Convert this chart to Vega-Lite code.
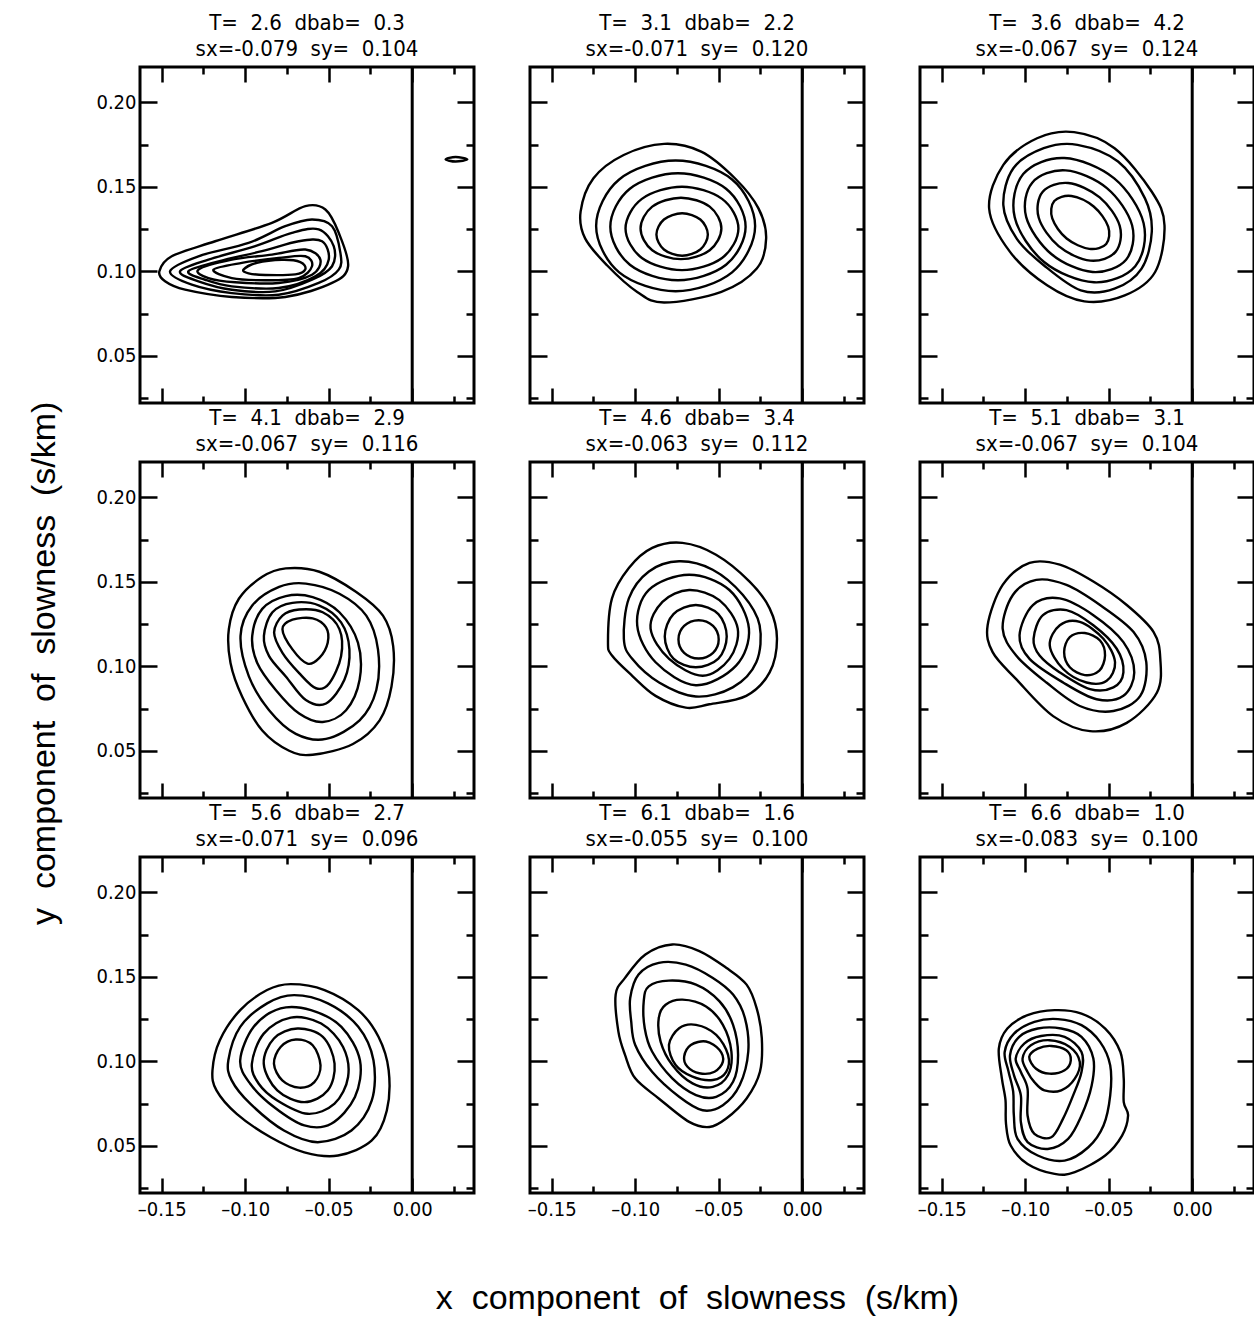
{
"$schema": "https://vega.github.io/schema/vega-lite/v6.json",
"background": "white",
"padding": {"left": 28, "top": 10, "right": 0, "bottom": 5},
"title": {"text": "y\u00a0 component\u00a0 of\u00a0 slowness\u00a0 (s/km)", "orient": "left", "anchor": "middle", "font": "Liberation Sans", "fontSize": 34, "offset": 32, "frame": "bounds"},
"datasets": {
"z": [{"x": 0, "y": 0.1}],
"c": [
{"p":1,"c":1,"k":0,"x":-0.1514,"y":0.1},{"p":1,"c":1,"k":1,"x":-0.144,"y":0.1089},{"p":1,"c":1,"k":2,"x":-0.118,"y":0.1178},{"p":1,"c":1,"k":3,"x":-0.084,"y":0.1287},{"p":1,"c":1,"k":4,"x":-0.064,"y":0.1386},{"p":1,"c":1,"k":5,"x":-0.052,"y":0.1366},{"p":1,"c":1,"k":6,"x":-0.044,"y":0.1228},{"p":1,"c":1,"k":7,"x":-0.0384,"y":0.103},{"p":1,"c":1,"k":8,"x":-0.048,"y":0.0931},{"p":1,"c":1,"k":9,"x":-0.076,"y":0.0848},{"p":1,"c":1,"k":10,"x":-0.108,"y":0.0848},{"p":1,"c":1,"k":11,"x":-0.136,"y":0.0891},{"p":1,"c":1,"k":12,"x":-0.148,"y":0.0941},
{"p":1,"c":2,"k":0,"x":-0.145,"y":0.1},{"p":1,"c":2,"k":1,"x":-0.128,"y":0.1089},{"p":1,"c":2,"k":2,"x":-0.098,"y":0.1168},{"p":1,"c":2,"k":3,"x":-0.076,"y":0.1267},{"p":1,"c":2,"k":4,"x":-0.06,"y":0.1307},{"p":1,"c":2,"k":5,"x":-0.048,"y":0.1267},{"p":1,"c":2,"k":6,"x":-0.043,"y":0.1109},{"p":1,"c":2,"k":7,"x":-0.044,"y":0.101},{"p":1,"c":2,"k":8,"x":-0.056,"y":0.0931},{"p":1,"c":2,"k":9,"x":-0.08,"y":0.0861},{"p":1,"c":2,"k":10,"x":-0.108,"y":0.0871},{"p":1,"c":2,"k":11,"x":-0.132,"y":0.0921},
{"p":1,"c":3,"k":0,"x":-0.139,"y":0.1},{"p":1,"c":3,"k":1,"x":-0.122,"y":0.1069},{"p":1,"c":3,"k":2,"x":-0.094,"y":0.1149},{"p":1,"c":3,"k":3,"x":-0.072,"y":0.1228},{"p":1,"c":3,"k":4,"x":-0.056,"y":0.1248},{"p":1,"c":3,"k":5,"x":-0.047,"y":0.1149},{"p":1,"c":3,"k":6,"x":-0.048,"y":0.103},{"p":1,"c":3,"k":7,"x":-0.06,"y":0.095},{"p":1,"c":3,"k":8,"x":-0.082,"y":0.0881},{"p":1,"c":3,"k":9,"x":-0.108,"y":0.0891},{"p":1,"c":3,"k":10,"x":-0.128,"y":0.0941},
{"p":1,"c":4,"k":0,"x":-0.134,"y":0.1},{"p":1,"c":4,"k":1,"x":-0.116,"y":0.1059},{"p":1,"c":4,"k":2,"x":-0.09,"y":0.1119},{"p":1,"c":4,"k":3,"x":-0.068,"y":0.1178},{"p":1,"c":4,"k":4,"x":-0.054,"y":0.1178},{"p":1,"c":4,"k":5,"x":-0.05,"y":0.1069},{"p":1,"c":4,"k":6,"x":-0.058,"y":0.097},{"p":1,"c":4,"k":7,"x":-0.08,"y":0.0901},{"p":1,"c":4,"k":8,"x":-0.108,"y":0.0911},{"p":1,"c":4,"k":9,"x":-0.124,"y":0.095},
{"p":1,"c":5,"k":0,"x":-0.128,"y":0.101},{"p":1,"c":5,"k":1,"x":-0.108,"y":0.1069},{"p":1,"c":5,"k":2,"x":-0.084,"y":0.1099},{"p":1,"c":5,"k":3,"x":-0.064,"y":0.1129},{"p":1,"c":5,"k":4,"x":-0.055,"y":0.1069},{"p":1,"c":5,"k":5,"x":-0.06,"y":0.098},{"p":1,"c":5,"k":6,"x":-0.08,"y":0.0931},{"p":1,"c":5,"k":7,"x":-0.106,"y":0.0935},{"p":1,"c":5,"k":8,"x":-0.122,"y":0.096},
{"p":1,"c":6,"k":0,"x":-0.119,"y":0.101},{"p":1,"c":6,"k":1,"x":-0.102,"y":0.105},{"p":1,"c":6,"k":2,"x":-0.08,"y":0.1079},{"p":1,"c":6,"k":3,"x":-0.064,"y":0.1089},{"p":1,"c":6,"k":4,"x":-0.06,"y":0.103},{"p":1,"c":6,"k":5,"x":-0.068,"y":0.096},{"p":1,"c":6,"k":6,"x":-0.088,"y":0.0947},{"p":1,"c":6,"k":7,"x":-0.108,"y":0.096},
{"p":1,"c":7,"k":0,"x":-0.101,"y":0.101},{"p":1,"c":7,"k":1,"x":-0.093,"y":0.105},{"p":1,"c":7,"k":2,"x":-0.078,"y":0.1068},{"p":1,"c":7,"k":3,"x":-0.067,"y":0.1055},{"p":1,"c":7,"k":4,"x":-0.064,"y":0.1012},{"p":1,"c":7,"k":5,"x":-0.07,"y":0.0982},{"p":1,"c":7,"k":6,"x":-0.088,"y":0.0978},{"p":1,"c":7,"k":7,"x":-0.098,"y":0.0988},
{"p":1,"c":8,"k":0,"x":0.02,"y":0.1663},{"p":1,"c":8,"k":1,"x":0.026,"y":0.1677},{"p":1,"c":8,"k":2,"x":0.033,"y":0.1663},{"p":1,"c":8,"k":3,"x":0.026,"y":0.165},
{"p":2,"c":1,"k":0,"x":-0.1327,"y":0.1353},{"p":2,"c":1,"k":1,"x":-0.125,"y":0.1551},{"p":2,"c":1,"k":2,"x":-0.1069,"y":0.1689},{"p":2,"c":1,"k":3,"x":-0.0827,"y":0.1755},{"p":2,"c":1,"k":4,"x":-0.0605,"y":0.1709},{"p":2,"c":1,"k":5,"x":-0.0403,"y":0.1551},{"p":2,"c":1,"k":6,"x":-0.0262,"y":0.1373},{"p":2,"c":1,"k":7,"x":-0.0216,"y":0.1195},{"p":2,"c":1,"k":8,"x":-0.0272,"y":0.1016},{"p":2,"c":1,"k":9,"x":-0.0484,"y":0.0878},{"p":2,"c":1,"k":10,"x":-0.0827,"y":0.0815},{"p":2,"c":1,"k":11,"x":-0.0988,"y":0.0878},{"p":2,"c":1,"k":12,"x":-0.1169,"y":0.1036},{"p":2,"c":1,"k":13,"x":-0.13,"y":0.1195},
{"p":2,"c":2,"k":0,"x":-0.1234,"y":0.1269},{"p":2,"c":2,"k":1,"x":-0.1096,"y":0.1544},{"p":2,"c":2,"k":2,"x":-0.0758,"y":0.1656},{"p":2,"c":2,"k":3,"x":-0.042,"y":0.1544},{"p":2,"c":2,"k":4,"x":-0.0282,"y":0.1269},{"p":2,"c":2,"k":5,"x":-0.042,"y":0.0994},{"p":2,"c":2,"k":6,"x":-0.0758,"y":0.0882},{"p":2,"c":2,"k":7,"x":-0.1096,"y":0.0994},
{"p":2,"c":3,"k":0,"x":-0.1149,"y":0.1264},{"p":2,"c":3,"k":1,"x":-0.1032,"y":0.1489},{"p":2,"c":3,"k":2,"x":-0.0744,"y":0.1581},{"p":2,"c":3,"k":3,"x":-0.0456,"y":0.1489},{"p":2,"c":3,"k":4,"x":-0.0339,"y":0.1264},{"p":2,"c":3,"k":5,"x":-0.0456,"y":0.1039},{"p":2,"c":3,"k":6,"x":-0.0744,"y":0.0947},{"p":2,"c":3,"k":7,"x":-0.1032,"y":0.1039},
{"p":2,"c":4,"k":0,"x":-0.1058,"y":0.1254},{"p":2,"c":4,"k":1,"x":-0.096,"y":0.1429},{"p":2,"c":4,"k":2,"x":-0.072,"y":0.1501},{"p":2,"c":4,"k":3,"x":-0.048,"y":0.1429},{"p":2,"c":4,"k":4,"x":-0.0382,"y":0.1254},{"p":2,"c":4,"k":5,"x":-0.048,"y":0.1079},{"p":2,"c":4,"k":6,"x":-0.072,"y":0.1007},{"p":2,"c":4,"k":7,"x":-0.096,"y":0.1079},
{"p":2,"c":5,"k":0,"x":-0.0968,"y":0.1254},{"p":2,"c":5,"k":1,"x":-0.0898,"y":0.1383},{"p":2,"c":5,"k":2,"x":-0.0726,"y":0.1436},{"p":2,"c":5,"k":3,"x":-0.0554,"y":0.1383},{"p":2,"c":5,"k":4,"x":-0.0484,"y":0.1254},{"p":2,"c":5,"k":5,"x":-0.0554,"y":0.1125},{"p":2,"c":5,"k":6,"x":-0.0726,"y":0.1072},{"p":2,"c":5,"k":7,"x":-0.0898,"y":0.1125},
{"p":2,"c":6,"k":0,"x":-0.0873,"y":0.1218},{"p":2,"c":6,"k":1,"x":-0.0828,"y":0.1307},{"p":2,"c":6,"k":2,"x":-0.0719,"y":0.1344},{"p":2,"c":6,"k":3,"x":-0.061,"y":0.1307},{"p":2,"c":6,"k":4,"x":-0.0565,"y":0.1218},{"p":2,"c":6,"k":5,"x":-0.061,"y":0.1129},{"p":2,"c":6,"k":6,"x":-0.0719,"y":0.1092},{"p":2,"c":6,"k":7,"x":-0.0828,"y":0.1129},
{"p":3,"c":1,"k":0,"x":-0.1216,"y":0.1372},{"p":3,"c":1,"k":1,"x":-0.1131,"y":0.163},{"p":3,"c":1,"k":2,"x":-0.0929,"y":0.1788},{"p":3,"c":1,"k":3,"x":-0.0707,"y":0.1824},{"p":3,"c":1,"k":4,"x":-0.0465,"y":0.1729},{"p":3,"c":1,"k":5,"x":-0.0242,"y":0.1471},{"p":3,"c":1,"k":6,"x":-0.0166,"y":0.1273},{"p":3,"c":1,"k":7,"x":-0.0222,"y":0.0996},{"p":3,"c":1,"k":8,"x":-0.0404,"y":0.0857},{"p":3,"c":1,"k":9,"x":-0.0646,"y":0.0822},{"p":3,"c":1,"k":10,"x":-0.0869,"y":0.0917},{"p":3,"c":1,"k":11,"x":-0.1091,"y":0.1115},
{"p":3,"c":2,"k":0,"x":-0.1131,"y":0.1392},{"p":3,"c":2,"k":1,"x":-0.1071,"y":0.161},{"p":3,"c":2,"k":2,"x":-0.0889,"y":0.1729},{"p":3,"c":2,"k":3,"x":-0.0687,"y":0.1749},{"p":3,"c":2,"k":4,"x":-0.0444,"y":0.165},{"p":3,"c":2,"k":5,"x":-0.0283,"y":0.1432},{"p":3,"c":2,"k":6,"x":-0.0242,"y":0.1234},{"p":3,"c":2,"k":7,"x":-0.0303,"y":0.1016},{"p":3,"c":2,"k":8,"x":-0.0465,"y":0.0897},{"p":3,"c":2,"k":9,"x":-0.0667,"y":0.0887},{"p":3,"c":2,"k":10,"x":-0.0889,"y":0.1036},{"p":3,"c":2,"k":11,"x":-0.1051,"y":0.1194},
{"p":3,"c":3,"k":0,"x":-0.0341,"y":0.103},{"p":3,"c":3,"k":1,"x":-0.0291,"y":0.1285},{"p":3,"c":3,"k":2,"x":-0.0467,"y":0.155},{"p":3,"c":3,"k":3,"x":-0.0766,"y":0.1671},{"p":3,"c":3,"k":4,"x":-0.1012,"y":0.1576},{"p":3,"c":3,"k":5,"x":-0.1063,"y":0.1321},{"p":3,"c":3,"k":6,"x":-0.0887,"y":0.1055},{"p":3,"c":3,"k":7,"x":-0.0588,"y":0.0935},
{"p":3,"c":4,"k":0,"x":-0.0396,"y":0.1069},{"p":3,"c":4,"k":1,"x":-0.036,"y":0.1273},{"p":3,"c":4,"k":2,"x":-0.0511,"y":0.1493},{"p":3,"c":4,"k":3,"x":-0.0758,"y":0.1598},{"p":3,"c":4,"k":4,"x":-0.0958,"y":0.1525},{"p":3,"c":4,"k":5,"x":-0.0994,"y":0.1321},{"p":3,"c":4,"k":6,"x":-0.0842,"y":0.1101},{"p":3,"c":4,"k":7,"x":-0.0596,"y":0.0996},
{"p":3,"c":5,"k":0,"x":-0.0459,"y":0.1115},{"p":3,"c":5,"k":1,"x":-0.0434,"y":0.1269},{"p":3,"c":5,"k":2,"x":-0.0554,"y":0.1438},{"p":3,"c":5,"k":3,"x":-0.0743,"y":0.1523},{"p":3,"c":5,"k":4,"x":-0.0895,"y":0.1471},{"p":3,"c":5,"k":5,"x":-0.0919,"y":0.1317},{"p":3,"c":5,"k":6,"x":-0.08,"y":0.1149},{"p":3,"c":5,"k":7,"x":-0.061,"y":0.1063},
{"p":3,"c":6,"k":0,"x":-0.0515,"y":0.1162},{"p":3,"c":6,"k":1,"x":-0.0503,"y":0.1265},{"p":3,"c":6,"k":2,"x":-0.059,"y":0.1384},{"p":3,"c":6,"k":3,"x":-0.0723,"y":0.1446},{"p":3,"c":6,"k":4,"x":-0.0826,"y":0.1416},{"p":3,"c":6,"k":5,"x":-0.0838,"y":0.1313},{"p":3,"c":6,"k":6,"x":-0.0752,"y":0.1194},{"p":3,"c":6,"k":7,"x":-0.0616,"y":0.1133},
{"p":4,"c":1,"k":0,"x":-0.1098,"y":0.122},{"p":4,"c":1,"k":1,"x":-0.1038,"y":0.14},{"p":4,"c":1,"k":2,"x":-0.0898,"y":0.153},{"p":4,"c":1,"k":3,"x":-0.0757,"y":0.158},{"p":4,"c":1,"k":4,"x":-0.0556,"y":0.156},{"p":4,"c":1,"k":5,"x":-0.0335,"y":0.144},{"p":4,"c":1,"k":6,"x":-0.0175,"y":0.13},{"p":4,"c":1,"k":7,"x":-0.0114,"y":0.112},{"p":4,"c":1,"k":8,"x":-0.0124,"y":0.088},{"p":4,"c":1,"k":9,"x":-0.0195,"y":0.068},{"p":4,"c":1,"k":10,"x":-0.0355,"y":0.054},{"p":4,"c":1,"k":11,"x":-0.0596,"y":0.0476},{"p":4,"c":1,"k":12,"x":-0.0737,"y":0.05},{"p":4,"c":1,"k":13,"x":-0.0898,"y":0.062},{"p":4,"c":1,"k":14,"x":-0.1018,"y":0.082},{"p":4,"c":1,"k":15,"x":-0.1088,"y":0.102},
{"p":4,"c":2,"k":0,"x":-0.1028,"y":0.118},{"p":4,"c":2,"k":1,"x":-0.0958,"y":0.136},{"p":4,"c":2,"k":2,"x":-0.0797,"y":0.147},{"p":4,"c":2,"k":3,"x":-0.0637,"y":0.149},{"p":4,"c":2,"k":4,"x":-0.0436,"y":0.143},{"p":4,"c":2,"k":5,"x":-0.0275,"y":0.13},{"p":4,"c":2,"k":6,"x":-0.0205,"y":0.11},{"p":4,"c":2,"k":7,"x":-0.0215,"y":0.086},{"p":4,"c":2,"k":8,"x":-0.0315,"y":0.068},{"p":4,"c":2,"k":9,"x":-0.0516,"y":0.057},{"p":4,"c":2,"k":10,"x":-0.0697,"y":0.06},{"p":4,"c":2,"k":11,"x":-0.0857,"y":0.074},{"p":4,"c":2,"k":12,"x":-0.0978,"y":0.094},
{"p":4,"c":3,"k":0,"x":-0.0958,"y":0.118},{"p":4,"c":3,"k":1,"x":-0.0898,"y":0.134},{"p":4,"c":3,"k":2,"x":-0.0757,"y":0.1416},{"p":4,"c":3,"k":3,"x":-0.0596,"y":0.141},{"p":4,"c":3,"k":4,"x":-0.0436,"y":0.132},{"p":4,"c":3,"k":5,"x":-0.0325,"y":0.114},{"p":4,"c":3,"k":6,"x":-0.0315,"y":0.092},{"p":4,"c":3,"k":7,"x":-0.0396,"y":0.074},{"p":4,"c":3,"k":8,"x":-0.0536,"y":0.067},{"p":4,"c":3,"k":9,"x":-0.0677,"y":0.072},{"p":4,"c":3,"k":10,"x":-0.0817,"y":0.086},{"p":4,"c":3,"k":11,"x":-0.0928,"y":0.102},
{"p":4,"c":4,"k":0,"x":-0.0888,"y":0.118},{"p":4,"c":4,"k":1,"x":-0.0837,"y":0.132},{"p":4,"c":4,"k":2,"x":-0.0717,"y":0.1376},{"p":4,"c":4,"k":3,"x":-0.0556,"y":0.136},{"p":4,"c":4,"k":4,"x":-0.0426,"y":0.126},{"p":4,"c":4,"k":5,"x":-0.0376,"y":0.11},{"p":4,"c":4,"k":6,"x":-0.0406,"y":0.092},{"p":4,"c":4,"k":7,"x":-0.0516,"y":0.078},{"p":4,"c":4,"k":8,"x":-0.0637,"y":0.08},{"p":4,"c":4,"k":9,"x":-0.0757,"y":0.094},{"p":4,"c":4,"k":10,"x":-0.0857,"y":0.106},
{"p":4,"c":5,"k":0,"x":-0.0827,"y":0.12},{"p":4,"c":5,"k":1,"x":-0.0777,"y":0.13},{"p":4,"c":5,"k":2,"x":-0.0677,"y":0.1336},{"p":4,"c":5,"k":3,"x":-0.0536,"y":0.132},{"p":4,"c":5,"k":4,"x":-0.0436,"y":0.122},{"p":4,"c":5,"k":5,"x":-0.0426,"y":0.106},{"p":4,"c":5,"k":6,"x":-0.0496,"y":0.09},{"p":4,"c":5,"k":7,"x":-0.0576,"y":0.087},{"p":4,"c":5,"k":8,"x":-0.0677,"y":0.096},{"p":4,"c":5,"k":9,"x":-0.0777,"y":0.108},
{"p":4,"c":6,"k":0,"x":-0.0777,"y":0.122},{"p":4,"c":6,"k":1,"x":-0.0717,"y":0.1276},{"p":4,"c":6,"k":2,"x":-0.0596,"y":0.1284},{"p":4,"c":6,"k":3,"x":-0.0516,"y":0.123},{"p":4,"c":6,"k":4,"x":-0.0506,"y":0.114},{"p":4,"c":6,"k":5,"x":-0.0556,"y":0.105},{"p":4,"c":6,"k":6,"x":-0.0627,"y":0.1016},{"p":4,"c":6,"k":7,"x":-0.0717,"y":0.11},
{"p":5,"c":1,"k":0,"x":-0.1163,"y":0.1143},{"p":5,"c":1,"k":1,"x":-0.1139,"y":0.1402},{"p":5,"c":1,"k":2,"x":-0.1038,"y":0.1582},{"p":5,"c":1,"k":3,"x":-0.0898,"y":0.1701},{"p":5,"c":1,"k":4,"x":-0.0717,"y":0.1731},{"p":5,"c":1,"k":5,"x":-0.0516,"y":0.1661},{"p":5,"c":1,"k":6,"x":-0.0315,"y":0.1502},{"p":5,"c":1,"k":7,"x":-0.0195,"y":0.1343},{"p":5,"c":1,"k":8,"x":-0.0151,"y":0.1163},{"p":5,"c":1,"k":9,"x":-0.0195,"y":0.0964},{"p":5,"c":1,"k":10,"x":-0.0335,"y":0.0825},{"p":5,"c":1,"k":11,"x":-0.0556,"y":0.0775},{"p":5,"c":1,"k":12,"x":-0.0697,"y":0.0755},{"p":5,"c":1,"k":13,"x":-0.0878,"y":0.0825},{"p":5,"c":1,"k":14,"x":-0.1018,"y":0.0944},{"p":5,"c":1,"k":15,"x":-0.1139,"y":0.1064},
{"p":5,"c":2,"k":0,"x":-0.1068,"y":0.1163},{"p":5,"c":2,"k":1,"x":-0.1038,"y":0.1402},{"p":5,"c":2,"k":2,"x":-0.0918,"y":0.1562},{"p":5,"c":2,"k":3,"x":-0.0737,"y":0.1622},{"p":5,"c":2,"k":4,"x":-0.0536,"y":0.1572},{"p":5,"c":2,"k":5,"x":-0.0355,"y":0.1422},{"p":5,"c":2,"k":6,"x":-0.0255,"y":0.1243},{"p":5,"c":2,"k":7,"x":-0.0275,"y":0.1024},{"p":5,"c":2,"k":8,"x":-0.0416,"y":0.0875},{"p":5,"c":2,"k":9,"x":-0.0637,"y":0.0821},{"p":5,"c":2,"k":10,"x":-0.0857,"y":0.0904},{"p":5,"c":2,"k":11,"x":-0.1018,"y":0.1044},
{"p":5,"c":3,"k":0,"x":-0.0988,"y":0.1243},{"p":5,"c":3,"k":1,"x":-0.0918,"y":0.1452},{"p":5,"c":3,"k":2,"x":-0.0677,"y":0.1542},{"p":5,"c":3,"k":3,"x":-0.0436,"y":0.1452},{"p":5,"c":3,"k":4,"x":-0.0319,"y":0.1223},{"p":5,"c":3,"k":5,"x":-0.0396,"y":0.1004},{"p":5,"c":3,"k":6,"x":-0.0637,"y":0.0888},{"p":5,"c":3,"k":7,"x":-0.0878,"y":0.1024},
{"p":5,"c":4,"k":0,"x":-0.0908,"y":0.1223},{"p":5,"c":4,"k":1,"x":-0.0837,"y":0.1382},{"p":5,"c":4,"k":2,"x":-0.0677,"y":0.1452},{"p":5,"c":4,"k":3,"x":-0.0496,"y":0.1392},{"p":5,"c":4,"k":4,"x":-0.0386,"y":0.1223},{"p":5,"c":4,"k":5,"x":-0.0436,"y":0.1044},{"p":5,"c":4,"k":6,"x":-0.0596,"y":0.0944},{"p":5,"c":4,"k":7,"x":-0.0797,"y":0.1044},
{"p":5,"c":5,"k":0,"x":-0.0823,"y":0.1177},{"p":5,"c":5,"k":1,"x":-0.0771,"y":0.1309},{"p":5,"c":5,"k":2,"x":-0.0637,"y":0.1363},{"p":5,"c":5,"k":3,"x":-0.0502,"y":0.1309},{"p":5,"c":5,"k":4,"x":-0.0452,"y":0.1177},{"p":5,"c":5,"k":5,"x":-0.0502,"y":0.1046},{"p":5,"c":5,"k":6,"x":-0.0637,"y":0.0994},{"p":5,"c":5,"k":7,"x":-0.0771,"y":0.1046},
{"p":5,"c":6,"k":0,"x":-0.0741,"y":0.1159},{"p":5,"c":6,"k":1,"x":-0.0707,"y":0.1239},{"p":5,"c":6,"k":2,"x":-0.062,"y":0.1273},{"p":5,"c":6,"k":3,"x":-0.0534,"y":0.1239},{"p":5,"c":6,"k":4,"x":-0.05,"y":0.1159},{"p":5,"c":6,"k":5,"x":-0.0534,"y":0.108},{"p":5,"c":6,"k":6,"x":-0.062,"y":0.1046},{"p":5,"c":6,"k":7,"x":-0.0707,"y":0.108},
{"p":6,"c":1,"k":0,"x":-0.1225,"y":0.1243},{"p":6,"c":1,"k":1,"x":-0.1135,"y":0.1482},{"p":6,"c":1,"k":2,"x":-0.0974,"y":0.1612},{"p":6,"c":1,"k":3,"x":-0.0793,"y":0.1602},{"p":6,"c":1,"k":4,"x":-0.0592,"y":0.1502},{"p":6,"c":1,"k":5,"x":-0.0392,"y":0.1363},{"p":6,"c":1,"k":6,"x":-0.0231,"y":0.1203},{"p":6,"c":1,"k":7,"x":-0.0191,"y":0.1044},{"p":6,"c":1,"k":8,"x":-0.0211,"y":0.0845},{"p":6,"c":1,"k":9,"x":-0.0392,"y":0.0665},{"p":6,"c":1,"k":10,"x":-0.0612,"y":0.0616},{"p":6,"c":1,"k":11,"x":-0.0833,"y":0.0705},{"p":6,"c":1,"k":12,"x":-0.1054,"y":0.0924},{"p":6,"c":1,"k":13,"x":-0.1195,"y":0.1084},
{"p":6,"c":2,"k":0,"x":-0.1135,"y":0.1223},{"p":6,"c":2,"k":1,"x":-0.1074,"y":0.1422},{"p":6,"c":2,"k":2,"x":-0.0934,"y":0.1512},{"p":6,"c":2,"k":3,"x":-0.0753,"y":0.1482},{"p":6,"c":2,"k":4,"x":-0.0552,"y":0.1363},{"p":6,"c":2,"k":5,"x":-0.0351,"y":0.1203},{"p":6,"c":2,"k":6,"x":-0.0275,"y":0.1024},{"p":6,"c":2,"k":7,"x":-0.0311,"y":0.0825},{"p":6,"c":2,"k":8,"x":-0.0472,"y":0.0735},{"p":6,"c":2,"k":9,"x":-0.0673,"y":0.0765},{"p":6,"c":2,"k":10,"x":-0.0873,"y":0.0904},{"p":6,"c":2,"k":11,"x":-0.1054,"y":0.1064},
{"p":6,"c":3,"k":0,"x":-0.1034,"y":0.1183},{"p":6,"c":3,"k":1,"x":-0.0954,"y":0.1363},{"p":6,"c":3,"k":2,"x":-0.0793,"y":0.1402},{"p":6,"c":3,"k":3,"x":-0.0592,"y":0.1303},{"p":6,"c":3,"k":4,"x":-0.0412,"y":0.1143},{"p":6,"c":3,"k":5,"x":-0.0347,"y":0.0964},{"p":6,"c":3,"k":6,"x":-0.0412,"y":0.0825},{"p":6,"c":3,"k":7,"x":-0.0572,"y":0.0805},{"p":6,"c":3,"k":8,"x":-0.0773,"y":0.0904},{"p":6,"c":3,"k":9,"x":-0.0974,"y":0.1044},
{"p":6,"c":4,"k":0,"x":-0.095,"y":0.1163},{"p":6,"c":4,"k":1,"x":-0.0894,"y":0.1303},{"p":6,"c":4,"k":2,"x":-0.0753,"y":0.1333},{"p":6,"c":4,"k":3,"x":-0.0592,"y":0.1243},{"p":6,"c":4,"k":4,"x":-0.0452,"y":0.1104},{"p":6,"c":4,"k":5,"x":-0.0412,"y":0.0964},{"p":6,"c":4,"k":6,"x":-0.0472,"y":0.0875},{"p":6,"c":4,"k":7,"x":-0.0612,"y":0.0865},{"p":6,"c":4,"k":8,"x":-0.0793,"y":0.0964},{"p":6,"c":4,"k":9,"x":-0.0914,"y":0.1064},
{"p":6,"c":5,"k":0,"x":-0.0853,"y":0.1124},{"p":6,"c":5,"k":1,"x":-0.0793,"y":0.1243},{"p":6,"c":5,"k":2,"x":-0.0673,"y":0.1263},{"p":6,"c":5,"k":3,"x":-0.0532,"y":0.1163},{"p":6,"c":5,"k":4,"x":-0.0462,"y":0.1024},{"p":6,"c":5,"k":5,"x":-0.0512,"y":0.0914},{"p":6,"c":5,"k":6,"x":-0.0633,"y":0.0904},{"p":6,"c":5,"k":7,"x":-0.0773,"y":0.0984},
{"p":6,"c":6,"k":0,"x":-0.0767,"y":0.1084},{"p":6,"c":6,"k":1,"x":-0.0733,"y":0.1173},{"p":6,"c":6,"k":2,"x":-0.0643,"y":0.1197},{"p":6,"c":6,"k":3,"x":-0.0552,"y":0.1153},{"p":6,"c":6,"k":4,"x":-0.0522,"y":0.1064},{"p":6,"c":6,"k":5,"x":-0.0556,"y":0.0974},{"p":6,"c":6,"k":6,"x":-0.0643,"y":0.0948},{"p":6,"c":6,"k":7,"x":-0.0733,"y":0.0994},
{"p":7,"c":1,"k":0,"x":-0.1196,"y":0.0947},{"p":7,"c":1,"k":1,"x":-0.1152,"y":0.1125},{"p":7,"c":1,"k":2,"x":-0.103,"y":0.1303},{"p":7,"c":1,"k":3,"x":-0.0869,"y":0.1422},{"p":7,"c":1,"k":4,"x":-0.0727,"y":0.1457},{"p":7,"c":1,"k":5,"x":-0.0525,"y":0.1422},{"p":7,"c":1,"k":6,"x":-0.0323,"y":0.1303},{"p":7,"c":1,"k":7,"x":-0.0202,"y":0.1145},{"p":7,"c":1,"k":8,"x":-0.0141,"y":0.0947},{"p":7,"c":1,"k":9,"x":-0.0152,"y":0.0709},{"p":7,"c":1,"k":10,"x":-0.0242,"y":0.0531},{"p":7,"c":1,"k":11,"x":-0.0444,"y":0.0442},{"p":7,"c":1,"k":12,"x":-0.0646,"y":0.0461},{"p":7,"c":1,"k":13,"x":-0.0848,"y":0.055},{"p":7,"c":1,"k":14,"x":-0.1051,"y":0.0689},{"p":7,"c":1,"k":15,"x":-0.1172,"y":0.0828},
{"p":7,"c":2,"k":0,"x":-0.1101,"y":0.1006},{"p":7,"c":2,"k":1,"x":-0.103,"y":0.1204},{"p":7,"c":2,"k":2,"x":-0.0869,"y":0.1343},{"p":7,"c":2,"k":3,"x":-0.0707,"y":0.1392},{"p":7,"c":2,"k":4,"x":-0.0505,"y":0.1343},{"p":7,"c":2,"k":5,"x":-0.0323,"y":0.1204},{"p":7,"c":2,"k":6,"x":-0.0232,"y":0.1006},{"p":7,"c":2,"k":7,"x":-0.0242,"y":0.0768},{"p":7,"c":2,"k":8,"x":-0.0364,"y":0.059},{"p":7,"c":2,"k":9,"x":-0.0566,"y":0.0521},{"p":7,"c":2,"k":10,"x":-0.0768,"y":0.059},{"p":7,"c":2,"k":11,"x":-0.097,"y":0.0749},{"p":7,"c":2,"k":12,"x":-0.1081,"y":0.0887},
{"p":7,"c":3,"k":0,"x":-0.103,"y":0.1006},{"p":7,"c":3,"k":1,"x":-0.0949,"y":0.1204},{"p":7,"c":3,"k":2,"x":-0.0788,"y":0.1313},{"p":7,"c":3,"k":3,"x":-0.0606,"y":0.1303},{"p":7,"c":3,"k":4,"x":-0.0424,"y":0.1204},{"p":7,"c":3,"k":5,"x":-0.0313,"y":0.1006},{"p":7,"c":3,"k":6,"x":-0.0343,"y":0.0788},{"p":7,"c":3,"k":7,"x":-0.0485,"y":0.063},{"p":7,"c":3,"k":8,"x":-0.0646,"y":0.062},{"p":7,"c":3,"k":9,"x":-0.0828,"y":0.0729},{"p":7,"c":3,"k":10,"x":-0.097,"y":0.0867},
{"p":7,"c":4,"k":0,"x":-0.096,"y":0.0986},{"p":7,"c":4,"k":1,"x":-0.0889,"y":0.1164},{"p":7,"c":4,"k":2,"x":-0.0727,"y":0.1259},{"p":7,"c":4,"k":3,"x":-0.0545,"y":0.1224},{"p":7,"c":4,"k":4,"x":-0.0414,"y":0.1085},{"p":7,"c":4,"k":5,"x":-0.0384,"y":0.0907},{"p":7,"c":4,"k":6,"x":-0.0465,"y":0.0749},{"p":7,"c":4,"k":7,"x":-0.0626,"y":0.0689},{"p":7,"c":4,"k":8,"x":-0.0808,"y":0.0768},{"p":7,"c":4,"k":9,"x":-0.0919,"y":0.0867},
{"p":7,"c":5,"k":0,"x":-0.0889,"y":0.0986},{"p":7,"c":5,"k":1,"x":-0.0828,"y":0.1135},{"p":7,"c":5,"k":2,"x":-0.0687,"y":0.1194},{"p":7,"c":5,"k":3,"x":-0.0535,"y":0.1145},{"p":7,"c":5,"k":4,"x":-0.0465,"y":0.0986},{"p":7,"c":5,"k":5,"x":-0.0505,"y":0.0828},{"p":7,"c":5,"k":6,"x":-0.0646,"y":0.0758},{"p":7,"c":5,"k":7,"x":-0.0808,"y":0.0828},
{"p":7,"c":6,"k":0,"x":-0.0828,"y":0.0986},{"p":7,"c":6,"k":1,"x":-0.0788,"y":0.1085},{"p":7,"c":6,"k":2,"x":-0.0697,"y":0.1129},{"p":7,"c":6,"k":3,"x":-0.0596,"y":0.1095},{"p":7,"c":6,"k":4,"x":-0.0549,"y":0.0976},{"p":7,"c":6,"k":5,"x":-0.0586,"y":0.0877},{"p":7,"c":6,"k":6,"x":-0.0677,"y":0.0844},{"p":7,"c":6,"k":7,"x":-0.0778,"y":0.0887},
{"p":8,"c":1,"k":0,"x":-0.1117,"y":0.1395},{"p":8,"c":1,"k":1,"x":-0.1061,"y":0.1494},{"p":8,"c":1,"k":2,"x":-0.0939,"y":0.1633},{"p":8,"c":1,"k":3,"x":-0.0778,"y":0.1692},{"p":8,"c":1,"k":4,"x":-0.0616,"y":0.1653},{"p":8,"c":1,"k":5,"x":-0.0455,"y":0.1554},{"p":8,"c":1,"k":6,"x":-0.0333,"y":0.1454},{"p":8,"c":1,"k":7,"x":-0.0273,"y":0.1315},{"p":8,"c":1,"k":8,"x":-0.0242,"y":0.1137},{"p":8,"c":1,"k":9,"x":-0.0253,"y":0.0938},{"p":8,"c":1,"k":10,"x":-0.0333,"y":0.078},{"p":8,"c":1,"k":11,"x":-0.0455,"y":0.0661},{"p":8,"c":1,"k":12,"x":-0.0556,"y":0.0611},{"p":8,"c":1,"k":13,"x":-0.0677,"y":0.0641},{"p":8,"c":1,"k":14,"x":-0.0859,"y":0.078},{"p":8,"c":1,"k":15,"x":-0.1,"y":0.0899},{"p":8,"c":1,"k":16,"x":-0.1061,"y":0.1038},{"p":8,"c":1,"k":17,"x":-0.1101,"y":0.1177},
{"p":8,"c":2,"k":0,"x":-0.103,"y":0.1375},{"p":8,"c":2,"k":1,"x":-0.098,"y":0.1514},{"p":8,"c":2,"k":2,"x":-0.0859,"y":0.1583},{"p":8,"c":2,"k":3,"x":-0.0697,"y":0.1573},{"p":8,"c":2,"k":4,"x":-0.0535,"y":0.1494},{"p":8,"c":2,"k":5,"x":-0.0414,"y":0.1395},{"p":8,"c":2,"k":6,"x":-0.0343,"y":0.1256},{"p":8,"c":2,"k":7,"x":-0.0323,"y":0.1058},{"p":8,"c":2,"k":8,"x":-0.0374,"y":0.0859},{"p":8,"c":2,"k":9,"x":-0.0475,"y":0.074},{"p":8,"c":2,"k":10,"x":-0.0596,"y":0.071},{"p":8,"c":2,"k":11,"x":-0.0737,"y":0.079},{"p":8,"c":2,"k":12,"x":-0.0899,"y":0.0938},{"p":8,"c":2,"k":13,"x":-0.1,"y":0.1097},{"p":8,"c":2,"k":14,"x":-0.1024,"y":0.1236},
{"p":8,"c":3,"k":0,"x":-0.0949,"y":0.1355},{"p":8,"c":3,"k":1,"x":-0.0919,"y":0.1444},{"p":8,"c":3,"k":2,"x":-0.0798,"y":0.1478},{"p":8,"c":3,"k":3,"x":-0.0636,"y":0.1454},{"p":8,"c":3,"k":4,"x":-0.0495,"y":0.1355},{"p":8,"c":3,"k":5,"x":-0.0414,"y":0.1216},{"p":8,"c":3,"k":6,"x":-0.0384,"y":0.1038},{"p":8,"c":3,"k":7,"x":-0.0414,"y":0.0879},{"p":8,"c":3,"k":8,"x":-0.0515,"y":0.079},{"p":8,"c":3,"k":9,"x":-0.0636,"y":0.08},{"p":8,"c":3,"k":10,"x":-0.0778,"y":0.0899},{"p":8,"c":3,"k":11,"x":-0.0899,"y":0.1058},{"p":8,"c":3,"k":12,"x":-0.0943,"y":0.1196},
{"p":8,"c":4,"k":0,"x":-0.0859,"y":0.1256},{"p":8,"c":4,"k":1,"x":-0.0818,"y":0.1335},{"p":8,"c":4,"k":2,"x":-0.0717,"y":0.1365},{"p":8,"c":4,"k":3,"x":-0.0576,"y":0.1325},{"p":8,"c":4,"k":4,"x":-0.0475,"y":0.1216},{"p":8,"c":4,"k":5,"x":-0.0424,"y":0.1058},{"p":8,"c":4,"k":6,"x":-0.0444,"y":0.0919},{"p":8,"c":4,"k":7,"x":-0.0535,"y":0.0849},{"p":8,"c":4,"k":8,"x":-0.0657,"y":0.0869},{"p":8,"c":4,"k":9,"x":-0.0778,"y":0.0978},{"p":8,"c":4,"k":10,"x":-0.0848,"y":0.1117},
{"p":8,"c":5,"k":0,"x":-0.0798,"y":0.1097},{"p":8,"c":5,"k":1,"x":-0.0737,"y":0.1196},{"p":8,"c":5,"k":2,"x":-0.0636,"y":0.1216},{"p":8,"c":5,"k":3,"x":-0.0515,"y":0.1157},{"p":8,"c":5,"k":4,"x":-0.0444,"y":0.1038},{"p":8,"c":5,"k":5,"x":-0.0455,"y":0.0938},{"p":8,"c":5,"k":6,"x":-0.0535,"y":0.0889},{"p":8,"c":5,"k":7,"x":-0.0657,"y":0.0909},{"p":8,"c":5,"k":8,"x":-0.0758,"y":0.0978},
{"p":8,"c":6,"k":0,"x":-0.0707,"y":0.1028},{"p":8,"c":6,"k":1,"x":-0.0667,"y":0.1097},{"p":8,"c":6,"k":2,"x":-0.0576,"y":0.1117},{"p":8,"c":6,"k":3,"x":-0.0495,"y":0.1067},{"p":8,"c":6,"k":4,"x":-0.0475,"y":0.0998},{"p":8,"c":6,"k":5,"x":-0.0525,"y":0.0938},{"p":8,"c":6,"k":6,"x":-0.0616,"y":0.0929},{"p":8,"c":6,"k":7,"x":-0.0687,"y":0.0968},
{"p":9,"c":1,"k":0,"x":-0.1158,"y":0.1075},{"p":9,"c":1,"k":1,"x":-0.1107,"y":0.1194},{"p":9,"c":1,"k":2,"x":-0.0986,"y":0.1273},{"p":9,"c":1,"k":3,"x":-0.0824,"y":0.1303},{"p":9,"c":1,"k":4,"x":-0.0663,"y":0.1283},{"p":9,"c":1,"k":5,"x":-0.0521,"y":0.1194},{"p":9,"c":1,"k":6,"x":-0.043,"y":0.1055},{"p":9,"c":1,"k":7,"x":-0.041,"y":0.0897},{"p":9,"c":1,"k":8,"x":-0.041,"y":0.0758},{"p":9,"c":1,"k":9,"x":-0.0384,"y":0.0679},{"p":9,"c":1,"k":10,"x":-0.042,"y":0.056},{"p":9,"c":1,"k":11,"x":-0.0521,"y":0.0442},{"p":9,"c":1,"k":12,"x":-0.0703,"y":0.0343},{"p":9,"c":1,"k":13,"x":-0.0824,"y":0.0333},{"p":9,"c":1,"k":14,"x":-0.0986,"y":0.0392},{"p":9,"c":1,"k":15,"x":-0.1087,"y":0.0501},{"p":9,"c":1,"k":16,"x":-0.1115,"y":0.063},{"p":9,"c":1,"k":17,"x":-0.1118,"y":0.077},{"p":9,"c":1,"k":18,"x":-0.114,"y":0.09},
{"p":9,"c":2,"k":0,"x":-0.1123,"y":0.1055},{"p":9,"c":2,"k":1,"x":-0.1067,"y":0.1164},{"p":9,"c":2,"k":2,"x":-0.0945,"y":0.1234},{"p":9,"c":2,"k":3,"x":-0.0804,"y":0.125},{"p":9,"c":2,"k":4,"x":-0.0663,"y":0.1214},{"p":9,"c":2,"k":5,"x":-0.0552,"y":0.1115},{"p":9,"c":2,"k":6,"x":-0.0491,"y":0.0976},{"p":9,"c":2,"k":7,"x":-0.0491,"y":0.0798},{"p":9,"c":2,"k":8,"x":-0.0531,"y":0.062},{"p":9,"c":2,"k":9,"x":-0.0622,"y":0.0491},{"p":9,"c":2,"k":10,"x":-0.0764,"y":0.0412},{"p":9,"c":2,"k":11,"x":-0.0925,"y":0.0442},{"p":9,"c":2,"k":12,"x":-0.1046,"y":0.0541},{"p":9,"c":2,"k":13,"x":-0.1068,"y":0.068},{"p":9,"c":2,"k":14,"x":-0.1072,"y":0.082},{"p":9,"c":2,"k":15,"x":-0.11,"y":0.094},
{"p":9,"c":3,"k":0,"x":-0.1091,"y":0.1036},{"p":9,"c":3,"k":1,"x":-0.1036,"y":0.1145},{"p":9,"c":3,"k":2,"x":-0.0925,"y":0.1194},{"p":9,"c":3,"k":3,"x":-0.0784,"y":0.1194},{"p":9,"c":3,"k":4,"x":-0.0663,"y":0.1145},{"p":9,"c":3,"k":5,"x":-0.0592,"y":0.1016},{"p":9,"c":3,"k":6,"x":-0.0602,"y":0.0857},{"p":9,"c":3,"k":7,"x":-0.0663,"y":0.0679},{"p":9,"c":3,"k":8,"x":-0.0743,"y":0.0541},{"p":9,"c":3,"k":9,"x":-0.0865,"y":0.0481},{"p":9,"c":3,"k":10,"x":-0.0986,"y":0.0521},{"p":9,"c":3,"k":11,"x":-0.1026,"y":0.064},{"p":9,"c":3,"k":12,"x":-0.1026,"y":0.0798},{"p":9,"c":3,"k":13,"x":-0.1067,"y":0.0917},
{"p":9,"c":4,"k":0,"x":-0.1057,"y":0.1016},{"p":9,"c":4,"k":1,"x":-0.1006,"y":0.1105},{"p":9,"c":4,"k":2,"x":-0.0905,"y":0.115},{"p":9,"c":4,"k":3,"x":-0.0764,"y":0.1145},{"p":9,"c":4,"k":4,"x":-0.0663,"y":0.1055},{"p":9,"c":4,"k":5,"x":-0.0663,"y":0.0937},{"p":9,"c":4,"k":6,"x":-0.0713,"y":0.0798},{"p":9,"c":4,"k":7,"x":-0.0774,"y":0.0659},{"p":9,"c":4,"k":8,"x":-0.0844,"y":0.055},{"p":9,"c":4,"k":9,"x":-0.0945,"y":0.057},{"p":9,"c":4,"k":10,"x":-0.0986,"y":0.0679},{"p":9,"c":4,"k":11,"x":-0.0986,"y":0.0838},{"p":9,"c":4,"k":12,"x":-0.1026,"y":0.0937},
{"p":9,"c":5,"k":0,"x":-0.1016,"y":0.1016},{"p":9,"c":5,"k":1,"x":-0.0966,"y":0.1095},{"p":9,"c":5,"k":2,"x":-0.0855,"y":0.1125},{"p":9,"c":5,"k":3,"x":-0.0733,"y":0.1085},{"p":9,"c":5,"k":4,"x":-0.0673,"y":0.0996},{"p":9,"c":5,"k":5,"x":-0.0703,"y":0.0897},{"p":9,"c":5,"k":6,"x":-0.0784,"y":0.0828},{"p":9,"c":5,"k":7,"x":-0.0885,"y":0.0828},{"p":9,"c":5,"k":8,"x":-0.0945,"y":0.0877},{"p":9,"c":5,"k":9,"x":-0.0986,"y":0.0937},
{"p":9,"c":6,"k":0,"x":-0.0976,"y":0.1026},{"p":9,"c":6,"k":1,"x":-0.0925,"y":0.1075},{"p":9,"c":6,"k":2,"x":-0.0844,"y":0.1091},{"p":9,"c":6,"k":3,"x":-0.0754,"y":0.1065},{"p":9,"c":6,"k":4,"x":-0.0727,"y":0.1006},{"p":9,"c":6,"k":5,"x":-0.0764,"y":0.0947},{"p":9,"c":6,"k":6,"x":-0.0855,"y":0.0927},{"p":9,"c":6,"k":7,"x":-0.0935,"y":0.0956}
]
},
"config": {
"font": "DejaVu Sans Condensed, Liberation Sans",
"view": {"stroke": "black", "strokeWidth": 3},
"axis": {"domain": false, "grid": false, "tickColor": "black", "tickWidth": 2.5, "labelFont": "DejaVu Sans Condensed, Liberation Sans", "labelFontSize": 20, "labelColor": "black", "titleFont": "Liberation Sans", "titleFontSize": 34, "titleFontWeight": "normal", "titleColor": "black"},
"title": {"font": "DejaVu Sans Condensed, Liberation Sans", "fontSize": 22, "fontWeight": "normal", "color": "black", "lineHeight": 26, "offset": 5, "anchor": "middle", "frame": "group"},
"line": {"stroke": "black", "strokeWidth": 2.4},
"rule": {"stroke": "black", "strokeWidth": 3}
},
"columns": 3,
"spacing": {"row": 59, "column": 56},
"bounds": "flush",
"concat": [
{"title": {"text": ["T=\u00a0 2.6\u00a0 dbab=\u00a0 0.3", "sx=-0.079\u00a0 sy=\u00a0 0.104"]}, "width": 334, "height": 336, "resolve": {"axis": {"x": "independent", "y": "independent"}},
 "layer": [
  {"data": {"name": "c"}, "transform": [{"filter": "datum.p==1"}], "mark": {"type": "line", "interpolate": "cardinal-closed"},
   "encoding": {"x": {"field": "x", "type": "quantitative", "scale": {"domain": [-0.163, 0.037], "nice": false, "zero": false}, "axis": {"orient": "bottom", "title": null, "values": [-0.15,-0.1,-0.05,0], "tickSize": -15, "labels": false}},
    "y": {"field": "y", "type": "quantitative", "scale": {"domain": [0.022, 0.221], "nice": false, "zero": false}, "axis": {"orient": "left", "title": null, "values": [0.05,0.1,0.15,0.2], "tickSize": -17, "labelPadding": 21, "format": ".2f"}},
    "detail": {"field": "c", "type": "nominal"}, "order": {"field": "k", "type": "quantitative"}}},
  {"data": {"name": "z"}, "mark": {"type": "point", "opacity": 0}, "encoding": {"x": {"field": "x", "type": "quantitative", "scale": {"domain": [-0.163, 0.037], "nice": false, "zero": false}, "axis": {"orient": "top", "title": null, "values": [-0.15,-0.1,-0.05,0], "tickSize": -15, "labels": false}}, "y": {"field": "y", "type": "quantitative", "scale": {"domain": [0.022, 0.221], "nice": false, "zero": false}, "axis": {"orient": "right", "title": null, "values": [0.05,0.1,0.15,0.2], "tickSize": -17, "labels": false}}}},
  {"data": {"name": "z"}, "mark": {"type": "point", "opacity": 0}, "encoding": {"x": {"field": "x", "type": "quantitative", "scale": {"domain": [-0.163, 0.037], "nice": false, "zero": false}, "axis": {"orient": "bottom", "title": null, "values": [-0.125,-0.075,-0.025,0.025], "tickSize": -7, "labels": false}}, "y": {"field": "y", "type": "quantitative", "scale": {"domain": [0.022, 0.221], "nice": false, "zero": false}, "axis": {"orient": "left", "title": null, "values": [0.025,0.075,0.125,0.175], "tickSize": -8, "labels": false}}}},
  {"data": {"name": "z"}, "mark": {"type": "point", "opacity": 0}, "encoding": {"x": {"field": "x", "type": "quantitative", "scale": {"domain": [-0.163, 0.037], "nice": false, "zero": false}, "axis": {"orient": "top", "title": null, "values": [-0.125,-0.075,-0.025,0.025], "tickSize": -7, "labels": false}}, "y": {"field": "y", "type": "quantitative", "scale": {"domain": [0.022, 0.221], "nice": false, "zero": false}, "axis": {"orient": "right", "title": null, "values": [0.025,0.075,0.125,0.175], "tickSize": -8, "labels": false}}}},
  {"data": {"name": "z"}, "mark": "rule", "encoding": {"x": {"field": "x", "type": "quantitative", "scale": {"domain": [-0.163, 0.037], "nice": false, "zero": false}, "axis": null}}}
 ]},
{"title": {"text": ["T=\u00a0 3.1\u00a0 dbab=\u00a0 2.2", "sx=-0.071\u00a0 sy=\u00a0 0.120"]}, "width": 334, "height": 336, "resolve": {"axis": {"x": "independent", "y": "independent"}},
 "layer": [
  {"data": {"name": "c"}, "transform": [{"filter": "datum.p==2"}], "mark": {"type": "line", "interpolate": "cardinal-closed"},
   "encoding": {"x": {"field": "x", "type": "quantitative", "scale": {"domain": [-0.163, 0.037], "nice": false, "zero": false}, "axis": {"orient": "bottom", "title": null, "values": [-0.15,-0.1,-0.05,0], "tickSize": -15, "labels": false}},
    "y": {"field": "y", "type": "quantitative", "scale": {"domain": [0.022, 0.221], "nice": false, "zero": false}, "axis": {"orient": "left", "title": null, "values": [0.05,0.1,0.15,0.2], "tickSize": -17, "labels": false}},
    "detail": {"field": "c", "type": "nominal"}, "order": {"field": "k", "type": "quantitative"}}},
  {"data": {"name": "z"}, "mark": {"type": "point", "opacity": 0}, "encoding": {"x": {"field": "x", "type": "quantitative", "scale": {"domain": [-0.163, 0.037], "nice": false, "zero": false}, "axis": {"orient": "top", "title": null, "values": [-0.15,-0.1,-0.05,0], "tickSize": -15, "labels": false}}, "y": {"field": "y", "type": "quantitative", "scale": {"domain": [0.022, 0.221], "nice": false, "zero": false}, "axis": {"orient": "right", "title": null, "values": [0.05,0.1,0.15,0.2], "tickSize": -17, "labels": false}}}},
  {"data": {"name": "z"}, "mark": {"type": "point", "opacity": 0}, "encoding": {"x": {"field": "x", "type": "quantitative", "scale": {"domain": [-0.163, 0.037], "nice": false, "zero": false}, "axis": {"orient": "bottom", "title": null, "values": [-0.125,-0.075,-0.025,0.025], "tickSize": -7, "labels": false}}, "y": {"field": "y", "type": "quantitative", "scale": {"domain": [0.022, 0.221], "nice": false, "zero": false}, "axis": {"orient": "left", "title": null, "values": [0.025,0.075,0.125,0.175], "tickSize": -8, "labels": false}}}},
  {"data": {"name": "z"}, "mark": {"type": "point", "opacity": 0}, "encoding": {"x": {"field": "x", "type": "quantitative", "scale": {"domain": [-0.163, 0.037], "nice": false, "zero": false}, "axis": {"orient": "top", "title": null, "values": [-0.125,-0.075,-0.025,0.025], "tickSize": -7, "labels": false}}, "y": {"field": "y", "type": "quantitative", "scale": {"domain": [0.022, 0.221], "nice": false, "zero": false}, "axis": {"orient": "right", "title": null, "values": [0.025,0.075,0.125,0.175], "tickSize": -8, "labels": false}}}},
  {"data": {"name": "z"}, "mark": "rule", "encoding": {"x": {"field": "x", "type": "quantitative", "scale": {"domain": [-0.163, 0.037], "nice": false, "zero": false}, "axis": null}}}
 ]},
{"title": {"text": ["T=\u00a0 3.6\u00a0 dbab=\u00a0 4.2", "sx=-0.067\u00a0 sy=\u00a0 0.124"]}, "width": 334, "height": 336, "resolve": {"axis": {"x": "independent", "y": "independent"}},
 "layer": [
  {"data": {"name": "c"}, "transform": [{"filter": "datum.p==3"}], "mark": {"type": "line", "interpolate": "cardinal-closed"},
   "encoding": {"x": {"field": "x", "type": "quantitative", "scale": {"domain": [-0.163, 0.037], "nice": false, "zero": false}, "axis": {"orient": "bottom", "title": null, "values": [-0.15,-0.1,-0.05,0], "tickSize": -15, "labels": false}},
    "y": {"field": "y", "type": "quantitative", "scale": {"domain": [0.022, 0.221], "nice": false, "zero": false}, "axis": {"orient": "left", "title": null, "values": [0.05,0.1,0.15,0.2], "tickSize": -17, "labels": false}},
    "detail": {"field": "c", "type": "nominal"}, "order": {"field": "k", "type": "quantitative"}}},
  {"data": {"name": "z"}, "mark": {"type": "point", "opacity": 0}, "encoding": {"x": {"field": "x", "type": "quantitative", "scale": {"domain": [-0.163, 0.037], "nice": false, "zero": false}, "axis": {"orient": "top", "title": null, "values": [-0.15,-0.1,-0.05,0], "tickSize": -15, "labels": false}}, "y": {"field": "y", "type": "quantitative", "scale": {"domain": [0.022, 0.221], "nice": false, "zero": false}, "axis": {"orient": "right", "title": null, "values": [0.05,0.1,0.15,0.2], "tickSize": -17, "labels": false}}}},
  {"data": {"name": "z"}, "mark": {"type": "point", "opacity": 0}, "encoding": {"x": {"field": "x", "type": "quantitative", "scale": {"domain": [-0.163, 0.037], "nice": false, "zero": false}, "axis": {"orient": "bottom", "title": null, "values": [-0.125,-0.075,-0.025,0.025], "tickSize": -7, "labels": false}}, "y": {"field": "y", "type": "quantitative", "scale": {"domain": [0.022, 0.221], "nice": false, "zero": false}, "axis": {"orient": "left", "title": null, "values": [0.025,0.075,0.125,0.175], "tickSize": -8, "labels": false}}}},
  {"data": {"name": "z"}, "mark": {"type": "point", "opacity": 0}, "encoding": {"x": {"field": "x", "type": "quantitative", "scale": {"domain": [-0.163, 0.037], "nice": false, "zero": false}, "axis": {"orient": "top", "title": null, "values": [-0.125,-0.075,-0.025,0.025], "tickSize": -7, "labels": false}}, "y": {"field": "y", "type": "quantitative", "scale": {"domain": [0.022, 0.221], "nice": false, "zero": false}, "axis": {"orient": "right", "title": null, "values": [0.025,0.075,0.125,0.175], "tickSize": -8, "labels": false}}}},
  {"data": {"name": "z"}, "mark": "rule", "encoding": {"x": {"field": "x", "type": "quantitative", "scale": {"domain": [-0.163, 0.037], "nice": false, "zero": false}, "axis": null}}}
 ]},
{"title": {"text": ["T=\u00a0 4.1\u00a0 dbab=\u00a0 2.9", "sx=-0.067\u00a0 sy=\u00a0 0.116"]}, "width": 334, "height": 336, "resolve": {"axis": {"x": "independent", "y": "independent"}},
 "layer": [
  {"data": {"name": "c"}, "transform": [{"filter": "datum.p==4"}], "mark": {"type": "line", "interpolate": "cardinal-closed"},
   "encoding": {"x": {"field": "x", "type": "quantitative", "scale": {"domain": [-0.163, 0.037], "nice": false, "zero": false}, "axis": {"orient": "bottom", "title": null, "values": [-0.15,-0.1,-0.05,0], "tickSize": -15, "labels": false}},
    "y": {"field": "y", "type": "quantitative", "scale": {"domain": [0.022, 0.221], "nice": false, "zero": false}, "axis": {"orient": "left", "title": null, "values": [0.05,0.1,0.15,0.2], "tickSize": -17, "labelPadding": 21, "format": ".2f"}},
    "detail": {"field": "c", "type": "nominal"}, "order": {"field": "k", "type": "quantitative"}}},
  {"data": {"name": "z"}, "mark": {"type": "point", "opacity": 0}, "encoding": {"x": {"field": "x", "type": "quantitative", "scale": {"domain": [-0.163, 0.037], "nice": false, "zero": false}, "axis": {"orient": "top", "title": null, "values": [-0.15,-0.1,-0.05,0], "tickSize": -15, "labels": false}}, "y": {"field": "y", "type": "quantitative", "scale": {"domain": [0.022, 0.221], "nice": false, "zero": false}, "axis": {"orient": "right", "title": null, "values": [0.05,0.1,0.15,0.2], "tickSize": -17, "labels": false}}}},
  {"data": {"name": "z"}, "mark": {"type": "point", "opacity": 0}, "encoding": {"x": {"field": "x", "type": "quantitative", "scale": {"domain": [-0.163, 0.037], "nice": false, "zero": false}, "axis": {"orient": "bottom", "title": null, "values": [-0.125,-0.075,-0.025,0.025], "tickSize": -7, "labels": false}}, "y": {"field": "y", "type": "quantitative", "scale": {"domain": [0.022, 0.221], "nice": false, "zero": false}, "axis": {"orient": "left", "title": null, "values": [0.025,0.075,0.125,0.175], "tickSize": -8, "labels": false}}}},
  {"data": {"name": "z"}, "mark": {"type": "point", "opacity": 0}, "encoding": {"x": {"field": "x", "type": "quantitative", "scale": {"domain": [-0.163, 0.037], "nice": false, "zero": false}, "axis": {"orient": "top", "title": null, "values": [-0.125,-0.075,-0.025,0.025], "tickSize": -7, "labels": false}}, "y": {"field": "y", "type": "quantitative", "scale": {"domain": [0.022, 0.221], "nice": false, "zero": false}, "axis": {"orient": "right", "title": null, "values": [0.025,0.075,0.125,0.175], "tickSize": -8, "labels": false}}}},
  {"data": {"name": "z"}, "mark": "rule", "encoding": {"x": {"field": "x", "type": "quantitative", "scale": {"domain": [-0.163, 0.037], "nice": false, "zero": false}, "axis": null}}}
 ]},
{"title": {"text": ["T=\u00a0 4.6\u00a0 dbab=\u00a0 3.4", "sx=-0.063\u00a0 sy=\u00a0 0.112"]}, "width": 334, "height": 336, "resolve": {"axis": {"x": "independent", "y": "independent"}},
 "layer": [
  {"data": {"name": "c"}, "transform": [{"filter": "datum.p==5"}], "mark": {"type": "line", "interpolate": "cardinal-closed"},
   "encoding": {"x": {"field": "x", "type": "quantitative", "scale": {"domain": [-0.163, 0.037], "nice": false, "zero": false}, "axis": {"orient": "bottom", "title": null, "values": [-0.15,-0.1,-0.05,0], "tickSize": -15, "labels": false}},
    "y": {"field": "y", "type": "quantitative", "scale": {"domain": [0.022, 0.221], "nice": false, "zero": false}, "axis": {"orient": "left", "title": null, "values": [0.05,0.1,0.15,0.2], "tickSize": -17, "labels": false}},
    "detail": {"field": "c", "type": "nominal"}, "order": {"field": "k", "type": "quantitative"}}},
  {"data": {"name": "z"}, "mark": {"type": "point", "opacity": 0}, "encoding": {"x": {"field": "x", "type": "quantitative", "scale": {"domain": [-0.163, 0.037], "nice": false, "zero": false}, "axis": {"orient": "top", "title": null, "values": [-0.15,-0.1,-0.05,0], "tickSize": -15, "labels": false}}, "y": {"field": "y", "type": "quantitative", "scale": {"domain": [0.022, 0.221], "nice": false, "zero": false}, "axis": {"orient": "right", "title": null, "values": [0.05,0.1,0.15,0.2], "tickSize": -17, "labels": false}}}},
  {"data": {"name": "z"}, "mark": {"type": "point", "opacity": 0}, "encoding": {"x": {"field": "x", "type": "quantitative", "scale": {"domain": [-0.163, 0.037], "nice": false, "zero": false}, "axis": {"orient": "bottom", "title": null, "values": [-0.125,-0.075,-0.025,0.025], "tickSize": -7, "labels": false}}, "y": {"field": "y", "type": "quantitative", "scale": {"domain": [0.022, 0.221], "nice": false, "zero": false}, "axis": {"orient": "left", "title": null, "values": [0.025,0.075,0.125,0.175], "tickSize": -8, "labels": false}}}},
  {"data": {"name": "z"}, "mark": {"type": "point", "opacity": 0}, "encoding": {"x": {"field": "x", "type": "quantitative", "scale": {"domain": [-0.163, 0.037], "nice": false, "zero": false}, "axis": {"orient": "top", "title": null, "values": [-0.125,-0.075,-0.025,0.025], "tickSize": -7, "labels": false}}, "y": {"field": "y", "type": "quantitative", "scale": {"domain": [0.022, 0.221], "nice": false, "zero": false}, "axis": {"orient": "right", "title": null, "values": [0.025,0.075,0.125,0.175], "tickSize": -8, "labels": false}}}},
  {"data": {"name": "z"}, "mark": "rule", "encoding": {"x": {"field": "x", "type": "quantitative", "scale": {"domain": [-0.163, 0.037], "nice": false, "zero": false}, "axis": null}}}
 ]},
{"title": {"text": ["T=\u00a0 5.1\u00a0 dbab=\u00a0 3.1", "sx=-0.067\u00a0 sy=\u00a0 0.104"]}, "width": 334, "height": 336, "resolve": {"axis": {"x": "independent", "y": "independent"}},
 "layer": [
  {"data": {"name": "c"}, "transform": [{"filter": "datum.p==6"}], "mark": {"type": "line", "interpolate": "cardinal-closed"},
   "encoding": {"x": {"field": "x", "type": "quantitative", "scale": {"domain": [-0.163, 0.037], "nice": false, "zero": false}, "axis": {"orient": "bottom", "title": null, "values": [-0.15,-0.1,-0.05,0], "tickSize": -15, "labels": false}},
    "y": {"field": "y", "type": "quantitative", "scale": {"domain": [0.022, 0.221], "nice": false, "zero": false}, "axis": {"orient": "left", "title": null, "values": [0.05,0.1,0.15,0.2], "tickSize": -17, "labels": false}},
    "detail": {"field": "c", "type": "nominal"}, "order": {"field": "k", "type": "quantitative"}}},
  {"data": {"name": "z"}, "mark": {"type": "point", "opacity": 0}, "encoding": {"x": {"field": "x", "type": "quantitative", "scale": {"domain": [-0.163, 0.037], "nice": false, "zero": false}, "axis": {"orient": "top", "title": null, "values": [-0.15,-0.1,-0.05,0], "tickSize": -15, "labels": false}}, "y": {"field": "y", "type": "quantitative", "scale": {"domain": [0.022, 0.221], "nice": false, "zero": false}, "axis": {"orient": "right", "title": null, "values": [0.05,0.1,0.15,0.2], "tickSize": -17, "labels": false}}}},
  {"data": {"name": "z"}, "mark": {"type": "point", "opacity": 0}, "encoding": {"x": {"field": "x", "type": "quantitative", "scale": {"domain": [-0.163, 0.037], "nice": false, "zero": false}, "axis": {"orient": "bottom", "title": null, "values": [-0.125,-0.075,-0.025,0.025], "tickSize": -7, "labels": false}}, "y": {"field": "y", "type": "quantitative", "scale": {"domain": [0.022, 0.221], "nice": false, "zero": false}, "axis": {"orient": "left", "title": null, "values": [0.025,0.075,0.125,0.175], "tickSize": -8, "labels": false}}}},
  {"data": {"name": "z"}, "mark": {"type": "point", "opacity": 0}, "encoding": {"x": {"field": "x", "type": "quantitative", "scale": {"domain": [-0.163, 0.037], "nice": false, "zero": false}, "axis": {"orient": "top", "title": null, "values": [-0.125,-0.075,-0.025,0.025], "tickSize": -7, "labels": false}}, "y": {"field": "y", "type": "quantitative", "scale": {"domain": [0.022, 0.221], "nice": false, "zero": false}, "axis": {"orient": "right", "title": null, "values": [0.025,0.075,0.125,0.175], "tickSize": -8, "labels": false}}}},
  {"data": {"name": "z"}, "mark": "rule", "encoding": {"x": {"field": "x", "type": "quantitative", "scale": {"domain": [-0.163, 0.037], "nice": false, "zero": false}, "axis": null}}}
 ]},
{"title": {"text": ["T=\u00a0 5.6\u00a0 dbab=\u00a0 2.7", "sx=-0.071\u00a0 sy=\u00a0 0.096"]}, "width": 334, "height": 336, "resolve": {"axis": {"x": "independent", "y": "independent"}},
 "layer": [
  {"data": {"name": "c"}, "transform": [{"filter": "datum.p==7"}], "mark": {"type": "line", "interpolate": "cardinal-closed"},
   "encoding": {"x": {"field": "x", "type": "quantitative", "scale": {"domain": [-0.163, 0.037], "nice": false, "zero": false}, "axis": {"orient": "bottom", "title": null, "values": [-0.15,-0.1,-0.05,0], "tickSize": -15, "labelPadding": 21, "labelExpr": "replace(format(datum.value,'.2f'),'−','–')"}},
    "y": {"field": "y", "type": "quantitative", "scale": {"domain": [0.022, 0.221], "nice": false, "zero": false}, "axis": {"orient": "left", "title": null, "values": [0.05,0.1,0.15,0.2], "tickSize": -17, "labelPadding": 21, "format": ".2f"}},
    "detail": {"field": "c", "type": "nominal"}, "order": {"field": "k", "type": "quantitative"}}},
  {"data": {"name": "z"}, "mark": {"type": "point", "opacity": 0}, "encoding": {"x": {"field": "x", "type": "quantitative", "scale": {"domain": [-0.163, 0.037], "nice": false, "zero": false}, "axis": {"orient": "top", "title": null, "values": [-0.15,-0.1,-0.05,0], "tickSize": -15, "labels": false}}, "y": {"field": "y", "type": "quantitative", "scale": {"domain": [0.022, 0.221], "nice": false, "zero": false}, "axis": {"orient": "right", "title": null, "values": [0.05,0.1,0.15,0.2], "tickSize": -17, "labels": false}}}},
  {"data": {"name": "z"}, "mark": {"type": "point", "opacity": 0}, "encoding": {"x": {"field": "x", "type": "quantitative", "scale": {"domain": [-0.163, 0.037], "nice": false, "zero": false}, "axis": {"orient": "bottom", "title": null, "values": [-0.125,-0.075,-0.025,0.025], "tickSize": -7, "labels": false}}, "y": {"field": "y", "type": "quantitative", "scale": {"domain": [0.022, 0.221], "nice": false, "zero": false}, "axis": {"orient": "left", "title": null, "values": [0.025,0.075,0.125,0.175], "tickSize": -8, "labels": false}}}},
  {"data": {"name": "z"}, "mark": {"type": "point", "opacity": 0}, "encoding": {"x": {"field": "x", "type": "quantitative", "scale": {"domain": [-0.163, 0.037], "nice": false, "zero": false}, "axis": {"orient": "top", "title": null, "values": [-0.125,-0.075,-0.025,0.025], "tickSize": -7, "labels": false}}, "y": {"field": "y", "type": "quantitative", "scale": {"domain": [0.022, 0.221], "nice": false, "zero": false}, "axis": {"orient": "right", "title": null, "values": [0.025,0.075,0.125,0.175], "tickSize": -8, "labels": false}}}},
  {"data": {"name": "z"}, "mark": "rule", "encoding": {"x": {"field": "x", "type": "quantitative", "scale": {"domain": [-0.163, 0.037], "nice": false, "zero": false}, "axis": null}}}
 ]},
{"title": {"text": ["T=\u00a0 6.1\u00a0 dbab=\u00a0 1.6", "sx=-0.055\u00a0 sy=\u00a0 0.100"]}, "width": 334, "height": 336, "resolve": {"axis": {"x": "independent", "y": "independent"}},
 "layer": [
  {"data": {"name": "c"}, "transform": [{"filter": "datum.p==8"}], "mark": {"type": "line", "interpolate": "cardinal-closed"},
   "encoding": {"x": {"field": "x", "type": "quantitative", "scale": {"domain": [-0.163, 0.037], "nice": false, "zero": false}, "axis": {"orient": "bottom", "title": "x\u00a0 component\u00a0 of\u00a0 slowness\u00a0 (s/km)", "titlePadding": 62, "values": [-0.15,-0.1,-0.05,0], "tickSize": -15, "labelPadding": 21, "labelExpr": "replace(format(datum.value,'.2f'),'−','–')"}},
    "y": {"field": "y", "type": "quantitative", "scale": {"domain": [0.022, 0.221], "nice": false, "zero": false}, "axis": {"orient": "left", "title": null, "values": [0.05,0.1,0.15,0.2], "tickSize": -17, "labels": false}},
    "detail": {"field": "c", "type": "nominal"}, "order": {"field": "k", "type": "quantitative"}}},
  {"data": {"name": "z"}, "mark": {"type": "point", "opacity": 0}, "encoding": {"x": {"field": "x", "type": "quantitative", "scale": {"domain": [-0.163, 0.037], "nice": false, "zero": false}, "axis": {"orient": "top", "title": null, "values": [-0.15,-0.1,-0.05,0], "tickSize": -15, "labels": false}}, "y": {"field": "y", "type": "quantitative", "scale": {"domain": [0.022, 0.221], "nice": false, "zero": false}, "axis": {"orient": "right", "title": null, "values": [0.05,0.1,0.15,0.2], "tickSize": -17, "labels": false}}}},
  {"data": {"name": "z"}, "mark": {"type": "point", "opacity": 0}, "encoding": {"x": {"field": "x", "type": "quantitative", "scale": {"domain": [-0.163, 0.037], "nice": false, "zero": false}, "axis": {"orient": "bottom", "title": null, "values": [-0.125,-0.075,-0.025,0.025], "tickSize": -7, "labels": false}}, "y": {"field": "y", "type": "quantitative", "scale": {"domain": [0.022, 0.221], "nice": false, "zero": false}, "axis": {"orient": "left", "title": null, "values": [0.025,0.075,0.125,0.175], "tickSize": -8, "labels": false}}}},
  {"data": {"name": "z"}, "mark": {"type": "point", "opacity": 0}, "encoding": {"x": {"field": "x", "type": "quantitative", "scale": {"domain": [-0.163, 0.037], "nice": false, "zero": false}, "axis": {"orient": "top", "title": null, "values": [-0.125,-0.075,-0.025,0.025], "tickSize": -7, "labels": false}}, "y": {"field": "y", "type": "quantitative", "scale": {"domain": [0.022, 0.221], "nice": false, "zero": false}, "axis": {"orient": "right", "title": null, "values": [0.025,0.075,0.125,0.175], "tickSize": -8, "labels": false}}}},
  {"data": {"name": "z"}, "mark": "rule", "encoding": {"x": {"field": "x", "type": "quantitative", "scale": {"domain": [-0.163, 0.037], "nice": false, "zero": false}, "axis": null}}}
 ]},
{"title": {"text": ["T=\u00a0 6.6\u00a0 dbab=\u00a0 1.0", "sx=-0.083\u00a0 sy=\u00a0 0.100"]}, "width": 334, "height": 336, "resolve": {"axis": {"x": "independent", "y": "independent"}},
 "layer": [
  {"data": {"name": "c"}, "transform": [{"filter": "datum.p==9"}], "mark": {"type": "line", "interpolate": "cardinal-closed"},
   "encoding": {"x": {"field": "x", "type": "quantitative", "scale": {"domain": [-0.163, 0.037], "nice": false, "zero": false}, "axis": {"orient": "bottom", "title": null, "values": [-0.15,-0.1,-0.05,0], "tickSize": -15, "labelPadding": 21, "labelExpr": "replace(format(datum.value,'.2f'),'−','–')"}},
    "y": {"field": "y", "type": "quantitative", "scale": {"domain": [0.022, 0.221], "nice": false, "zero": false}, "axis": {"orient": "left", "title": null, "values": [0.05,0.1,0.15,0.2], "tickSize": -17, "labels": false}},
    "detail": {"field": "c", "type": "nominal"}, "order": {"field": "k", "type": "quantitative"}}},
  {"data": {"name": "z"}, "mark": {"type": "point", "opacity": 0}, "encoding": {"x": {"field": "x", "type": "quantitative", "scale": {"domain": [-0.163, 0.037], "nice": false, "zero": false}, "axis": {"orient": "top", "title": null, "values": [-0.15,-0.1,-0.05,0], "tickSize": -15, "labels": false}}, "y": {"field": "y", "type": "quantitative", "scale": {"domain": [0.022, 0.221], "nice": false, "zero": false}, "axis": {"orient": "right", "title": null, "values": [0.05,0.1,0.15,0.2], "tickSize": -17, "labels": false}}}},
  {"data": {"name": "z"}, "mark": {"type": "point", "opacity": 0}, "encoding": {"x": {"field": "x", "type": "quantitative", "scale": {"domain": [-0.163, 0.037], "nice": false, "zero": false}, "axis": {"orient": "bottom", "title": null, "values": [-0.125,-0.075,-0.025,0.025], "tickSize": -7, "labels": false}}, "y": {"field": "y", "type": "quantitative", "scale": {"domain": [0.022, 0.221], "nice": false, "zero": false}, "axis": {"orient": "left", "title": null, "values": [0.025,0.075,0.125,0.175], "tickSize": -8, "labels": false}}}},
  {"data": {"name": "z"}, "mark": {"type": "point", "opacity": 0}, "encoding": {"x": {"field": "x", "type": "quantitative", "scale": {"domain": [-0.163, 0.037], "nice": false, "zero": false}, "axis": {"orient": "top", "title": null, "values": [-0.125,-0.075,-0.025,0.025], "tickSize": -7, "labels": false}}, "y": {"field": "y", "type": "quantitative", "scale": {"domain": [0.022, 0.221], "nice": false, "zero": false}, "axis": {"orient": "right", "title": null, "values": [0.025,0.075,0.125,0.175], "tickSize": -8, "labels": false}}}},
  {"data": {"name": "z"}, "mark": "rule", "encoding": {"x": {"field": "x", "type": "quantitative", "scale": {"domain": [-0.163, 0.037], "nice": false, "zero": false}, "axis": null}}}
 ]}
]
}
